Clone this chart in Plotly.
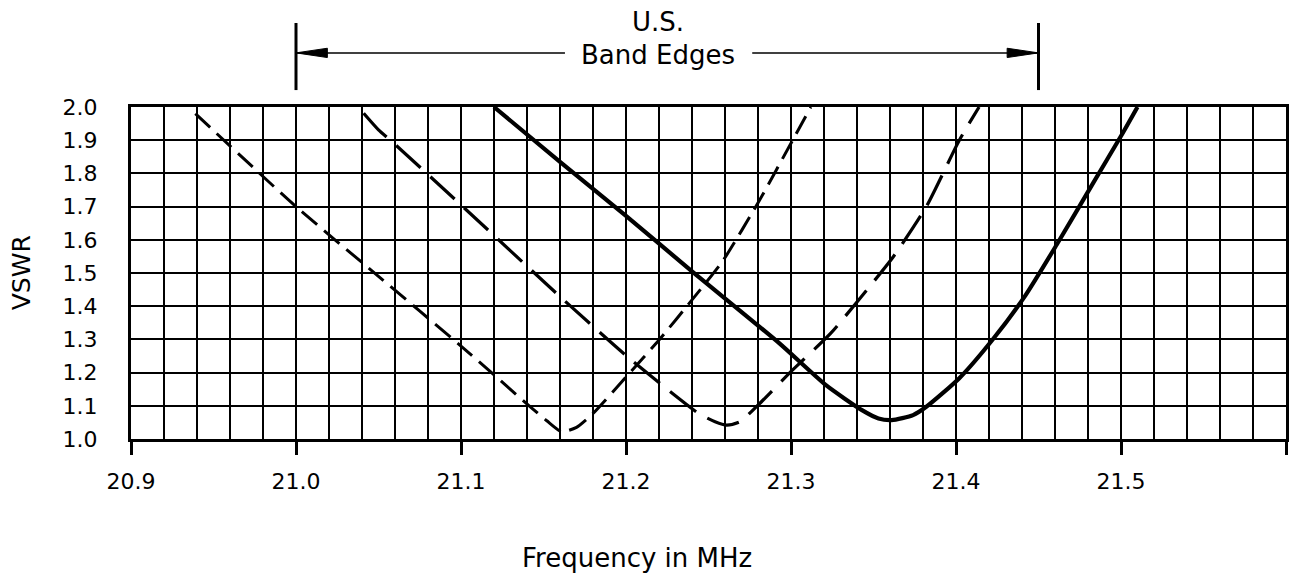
import plotly.graph_objects as go

# ---- data ----
freq_short = [20.939, 21.0, 21.05, 21.1, 21.142, 21.152, 21.161, 21.170, 21.18, 21.202,
              21.22, 21.24, 21.259, 21.281, 21.301, 21.312]
vswr_short = [1.98, 1.70, 1.49, 1.28, 1.097, 1.055, 1.022, 1.035, 1.077, 1.198,
              1.298, 1.419, 1.539, 1.72, 1.90, 2.0]

freq_long = [21.041, 21.050, 21.059, 21.1, 21.16, 21.202, 21.244, 21.254, 21.261, 21.269,
             21.281, 21.301, 21.324, 21.341, 21.362, 21.382, 21.402, 21.414]
vswr_long = [1.981, 1.931, 1.892, 1.705, 1.429, 1.243, 1.077, 1.052, 1.042, 1.052,
             1.107, 1.208, 1.318, 1.419, 1.549, 1.70, 1.90, 2.0]

freq_solid = [21.12, 21.16, 21.2, 21.24, 21.293, 21.321, 21.343, 21.353, 21.361, 21.374,
              21.382, 21.402, 21.422, 21.442, 21.461, 21.483, 21.501, 21.51]
vswr_solid = [2.0, 1.835, 1.672, 1.505, 1.288, 1.163, 1.087, 1.062, 1.057, 1.072,
              1.097, 1.183, 1.298, 1.432, 1.585, 1.77, 1.921, 2.0]

x_tickvals = [20.9, 21.0, 21.1, 21.2, 21.3, 21.4, 21.5, 21.6]
x_ticktext = ["20.9", "21.0", "21.1", "21.2", "21.3", "21.4", "21.5", ""]
y_tickvals = [1.0, 1.1, 1.2, 1.3, 1.4, 1.5, 1.6, 1.7, 1.8, 1.9, 2.0]
y_ticktext = ["1.0", "1.1", "1.2", "1.3", "1.4", "1.5", "1.6", "1.7", "1.8", "1.9", "2.0"]

band_edges = [21.0, 21.45]
band_label_top = "U.S."
band_label = "Band Edges"
x_title = "Frequency in MHz"
y_title = "VSWR"

FONT = "DejaVu Sans"

fig = go.Figure()
fig.add_trace(go.Scatter(x=freq_short, y=vswr_short, mode="lines",
                         line=dict(color="black", width=3, dash="20px,9px",
                                   shape="spline", smoothing=0.6),
                         showlegend=False, hoverinfo="skip"))
fig.add_trace(go.Scatter(x=freq_long, y=vswr_long, mode="lines",
                         line=dict(color="black", width=3.2, dash="33px,13px",
                                   shape="spline", smoothing=0.6),
                         showlegend=False, hoverinfo="skip"))
fig.add_trace(go.Scatter(x=freq_solid, y=vswr_solid, mode="lines",
                         line=dict(color="black", width=4.2, shape="spline", smoothing=0.6),
                         showlegend=False, hoverinfo="skip"))

# ---- band edge marker ----
y_top, y_bot, y_arrow = 1.253, 1.051, 1.163
head_len, head_half = 0.019, 0.014
gap_left, gap_right = 21.163, 21.2765
shapes = []
for be in band_edges:
    shapes.append(dict(type="line", xref="x", yref="paper", x0=be, x1=be, y0=y_bot, y1=y_top,
                       line=dict(color="black", width=3)))
left, right = band_edges
shapes.append(dict(type="line", xref="x", yref="paper", x0=left, x1=gap_left,
                   y0=y_arrow, y1=y_arrow, line=dict(color="black", width=1.5)))
shapes.append(dict(type="line", xref="x", yref="paper", x0=gap_right, x1=right,
                   y0=y_arrow, y1=y_arrow, line=dict(color="black", width=1.5)))
shapes.append(dict(type="path", xref="x", yref="paper",
                   path=f"M {left},{y_arrow} L {left + head_len},{y_arrow + head_half} "
                        f"L {left + head_len},{y_arrow - head_half} Z",
                   fillcolor="black", line=dict(color="black", width=1)))
shapes.append(dict(type="path", xref="x", yref="paper",
                   path=f"M {right},{y_arrow} L {right - head_len},{y_arrow + head_half} "
                        f"L {right - head_len},{y_arrow - head_half} Z",
                   fillcolor="black", line=dict(color="black", width=1)))

annotations = [
    dict(text=band_label_top, x=0.456, y=1.256, xref="paper", yref="paper",
         showarrow=False, xanchor="center", yanchor="middle",
         font=dict(family=FONT, size=26, color="black")),
    dict(text=band_label, x=0.456, y=1.157, xref="paper", yref="paper",
         showarrow=False, xanchor="center", yanchor="middle",
         font=dict(family=FONT, size=26, color="black")),
    dict(text=x_title, x=0.438, y=-0.358, xref="paper", yref="paper",
         showarrow=False, xanchor="center", yanchor="middle",
         font=dict(family=FONT, size=26, color="black")),
    dict(text=y_title, x=-0.095, y=0.5, xref="paper", yref="paper",
         showarrow=False, xanchor="center", yanchor="middle", textangle=-90,
         font=dict(family=FONT, size=25, color="black")),
]

fig.update_layout(
    width=1294, height=576, autosize=False,
    margin=dict(l=131, r=5, t=107, b=137, pad=0),
    paper_bgcolor="white", plot_bgcolor="white",
    font=dict(family=FONT, size=22, color="black"),
    shapes=shapes, annotations=annotations, showlegend=False,
)
fig.update_xaxes(
    range=[20.9, 21.6], tickmode="array", tickvals=x_tickvals, ticktext=x_ticktext,
    ticks="outside", ticklen=13, tickwidth=2.5, tickcolor="black",
    ticklabelstandoff=8,
    showgrid=True, gridcolor="black", gridwidth=2,
    minor=dict(tickmode="linear", tick0=20.9, dtick=0.02, showgrid=True,
               gridcolor="black", gridwidth=2, ticks=""),
    showline=True, linecolor="black", linewidth=3, mirror=True, zeroline=False,
    tickfont=dict(family=FONT, size=22, color="black"),
)
fig.update_yaxes(
    range=[1.0, 2.0], tickmode="array", tickvals=y_tickvals, ticktext=y_ticktext,
    ticks="", ticklabelstandoff=26,
    showgrid=True, gridcolor="black", gridwidth=2,
    showline=True, linecolor="black", linewidth=3, mirror=True, zeroline=False,
    tickfont=dict(family=FONT, size=22, color="black"),
)

fig.write_html("out.html", config={"displayModeBar": False},
               post_script="document.body.style.margin='0px';document.body.style.overflow='hidden';")
